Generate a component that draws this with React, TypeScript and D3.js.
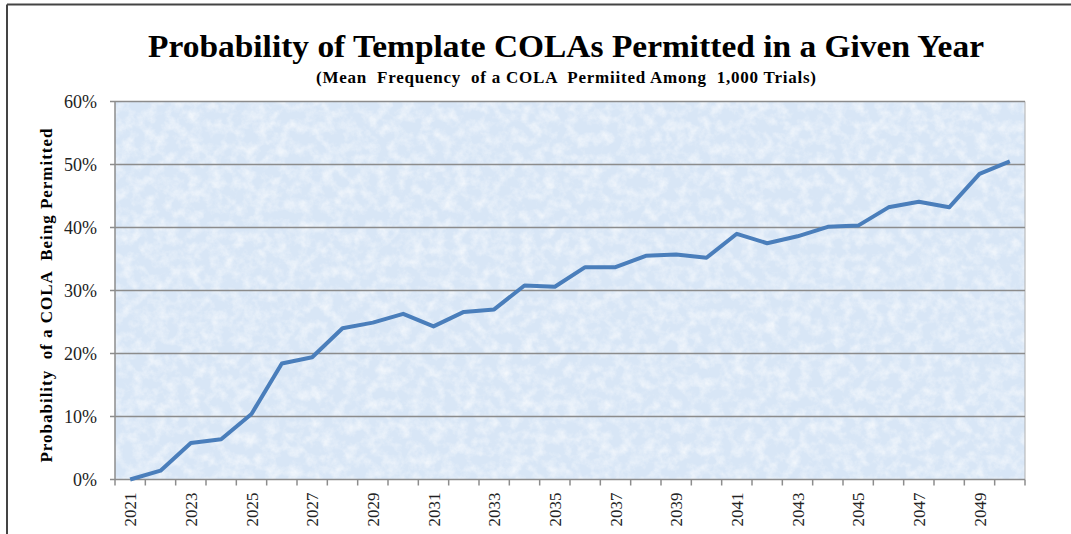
import React from "react";
import * as d3 from "d3";

// años (categorías) y frecuencia media de COLA permitido (%)
const years = [
  2021, 2022, 2023, 2024, 2025, 2026, 2027, 2028, 2029, 2030,
  2031, 2032, 2033, 2034, 2035, 2036, 2037, 2038, 2039, 2040,
  2041, 2042, 2043, 2044, 2045, 2046, 2047, 2048, 2049, 2050,
];
const probability = [
  0.0, 1.4, 5.8, 6.4, 10.4, 18.4, 19.4, 24.0, 24.9, 26.3,
  24.3, 26.6, 27.0, 30.8, 30.6, 33.7, 33.7, 35.5, 35.7, 35.2,
  39.0, 37.5, 38.6, 40.1, 40.3, 43.2, 44.1, 43.2, 48.5, 50.5,
];
const yTicks = [0, 10, 20, 30, 40, 50, 60];
const yearLabels = years.filter((_, i) => i % 2 === 0);

const title = "Probability of Template COLAs Permitted in a Given Year";
const subtitle = "(Mean  Frequency  of a COLA  Permiited Among  1,000 Trials)";
const yLabel = "Probability  of a COLA  Being Permitted";

const W = 1071;
const H = 534;
const plot = { left: 115, right: 1025, top: 101.5, bottom: 479.5 };
const serif = "'Liberation Serif', 'Times New Roman', serif";

const App: React.FC = () => {
  const x = d3
    .scaleBand<number>()
    .domain(years)
    .range([plot.left, plot.right])
    .padding(0);
  const y = d3.scaleLinear().domain([0, 60]).range([plot.bottom, plot.top]);

  const line = d3
    .line<number>()
    .x((_, i) => (x(years[i]) as number) + x.bandwidth() / 2)
    .y((d) => y(d));

  const boundaries = years.map((yr) => x(yr) as number).concat([plot.right]);

  return (
    <svg
      width={W}
      height={H}
      style={{ position: "absolute", left: 0, top: 0, background: "#fff" }}
    >
      <defs>
        <filter id="mottle" x="0" y="0" width="100%" height="100%">
          <feTurbulence type="fractalNoise" baseFrequency="0.09" numOctaves={4} seed={7} />
          <feColorMatrix
            type="matrix"
            values="0 0 0 0 1  0 0 0 0 1  0 0 0 0 1  1.8 0 0 0 -0.7"
          />
        </filter>
      </defs>

      {/* marco exterior */}
      <line x1={7} x2={W} y1={4.5} y2={4.5} stroke="#444" strokeWidth={2} />
      <line x1={7} x2={7} y1={4.5} y2={H} stroke="#444" strokeWidth={2} />

      {/* títulos */}
      <text
        x={566}
        y={57}
        textAnchor="middle"
        fontFamily={serif}
        fontWeight="bold"
        fontSize={32}
        textLength={836}
        lengthAdjust="spacingAndGlyphs"
      >
        {title}
      </text>
      <text
        x={566}
        y={83}
        textAnchor="middle"
        fontFamily={serif}
        fontWeight="bold"
        fontSize={17}
        textLength={500}
        lengthAdjust="spacing"
        style={{ whiteSpace: "pre" }}
      >
        {subtitle}
      </text>

      {/* área de trazado */}
      <rect
        x={plot.left}
        y={plot.top}
        width={plot.right - plot.left}
        height={plot.bottom - plot.top}
        fill="#d8e6f6"
      />
      <rect
        x={plot.left}
        y={plot.top}
        width={plot.right - plot.left}
        height={plot.bottom - plot.top}
        fill="#fff"
        filter="url(#mottle)"
        opacity={0.7}
      />
      <line
        x1={plot.right}
        x2={plot.right}
        y1={plot.top}
        y2={plot.bottom}
        stroke="#b0b0b0"
        strokeWidth={1}
      />

      {/* líneas de cuadrícula y eje Y */}
      {yTicks.map((t) => (
        <g key={t}>
          <line
            x1={plot.left - 5}
            x2={plot.right}
            y1={y(t)}
            y2={y(t)}
            stroke="#8c8c8c"
            strokeWidth={1.5}
          />
          <text
            x={97}
            y={y(t)}
            dy="0.35em"
            textAnchor="end"
            fontFamily={serif}
            fontSize={18}
            fill="#222"
          >
            {`${t}%`}
          </text>
        </g>
      ))}
      <line
        x1={plot.left}
        x2={plot.left}
        y1={plot.top}
        y2={plot.bottom}
        stroke="#8c8c8c"
        strokeWidth={1.5}
      />

      {/* marcas del eje X */}
      {boundaries.map((bx, i) => (
        <line
          key={i}
          x1={bx}
          x2={bx}
          y1={plot.bottom}
          y2={plot.bottom + 6}
          stroke="#8c8c8c"
          strokeWidth={1.5}
        />
      ))}
      {yearLabels.map((yr) => {
        const cx = (x(yr) as number) + x.bandwidth() / 2 + 6;
        return (
          <text
            key={yr}
            transform={`translate(${cx},${plot.bottom + 13}) rotate(-90)`}
            textAnchor="end"
            fontFamily={serif}
            fontSize={17}
            fill="#222"
          >
            {yr}
          </text>
        );
      })}

      {/* título del eje Y */}
      <text
        transform={`translate(52,${(plot.top + plot.bottom) / 2 + 5}) rotate(-90)`}
        textAnchor="middle"
        fontFamily={serif}
        fontWeight="bold"
        fontSize={17}
        textLength={334}
        lengthAdjust="spacing"
        style={{ whiteSpace: "pre" }}
      >
        {yLabel}
      </text>

      {/* serie */}
      <path
        d={line(probability) || ""}
        fill="none"
        stroke="#4a7ebb"
        strokeWidth={4}
        strokeLinejoin="round"
      />
    </svg>
  );
};

export default App;
